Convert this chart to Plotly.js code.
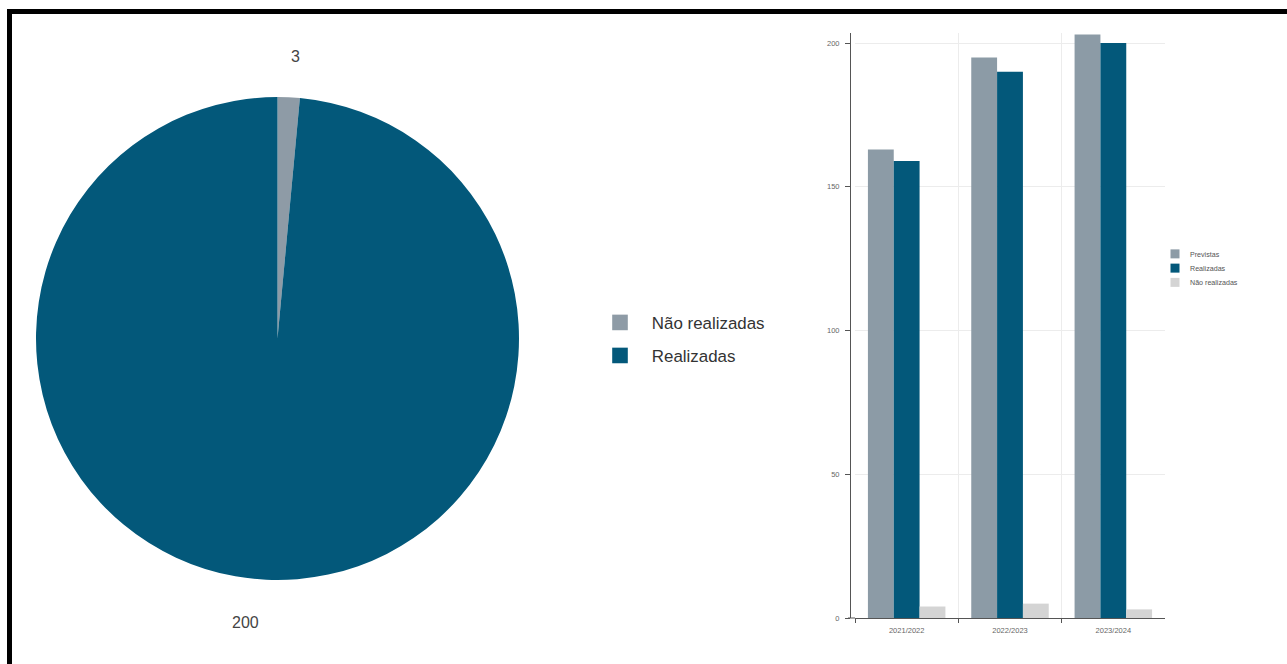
<!DOCTYPE html>
<html>
<head>
<meta charset="utf-8">
<script src="https://cdn.plot.ly/plotly-3.0.1.min.js"></script>
<style>
  html, body { margin: 0; padding: 0; background: #fff; }
  #wrap { position: relative; width: 1287px; height: 664px; overflow: hidden; }
  #chart { position: absolute; left: 0; top: 0; width: 1287px; height: 664px; }
  #frame { position: absolute; left: 7px; top: 9px; width: 1400px; height: 800px;
           border-left: 5px solid #000; border-top: 5px solid #000; pointer-events: none; }
</style>
</head>
<body>
<div id="wrap">
  <div id="chart"></div>
  <div id="frame"></div>
</div>
<script>
// Pie data
const pieLabels = ['Não realizadas', 'Realizadas'];
const pieValues = [3, 200];
const pieColors = ['#8e9ba6', '#03587a'];

// Bar data
const years = ['2021/2022', '2022/2023', '2023/2024'];
const previstas = [163, 195, 203];
const realizadas = [159, 190, 200];
const naoRealizadas = [4, 5, 3];
const barNames = ['Previstas', 'Realizadas', 'Não realizadas'];
const barColors = ['#8c9ba6', '#03587a', '#d4d4d4'];
const yTicks = [0, 50, 100, 150, 200];

const W = 1287, H = 664;
const font = 'Liberation Sans, Arial, sans-serif';

const traces = [
  {
    type: 'pie',
    labels: pieLabels,
    values: pieValues,
    marker: { colors: pieColors },
    sort: false,
    direction: 'clockwise',
    rotation: 0,
    textinfo: 'none',
    domain: { x: [35 / W, 520 / W], y: [84 / H, 567 / H] },
    legend: 'legend',
    hoverinfo: 'label+value'
  }
];

const seriesVals = [previstas, realizadas, naoRealizadas];
for (let i = 0; i < 3; i++) {
  traces.push({
    type: 'bar',
    name: barNames[i],
    x: years,
    y: seriesVals[i],
    marker: { color: barColors[i] },
    xaxis: 'x',
    yaxis: 'y',
    legend: 'legend2'
  });
}

// Pie value labels placed outside the pie (text comes from the data)
const pieLabelPos = [[295, 57], [245, 622]];
const annotations = pieValues.map((v, i) => ({
  xref: 'paper', yref: 'paper',
  x: pieLabelPos[i][0] / W, y: 1 - pieLabelPos[i][1] / H,
  xanchor: 'center', yanchor: 'middle',
  text: String(v), showarrow: false,
  font: { size: 16, color: '#444', family: font }
}));

const layout = {
  width: W, height: H,
  margin: { l: 0, r: 0, t: 0, b: 0 },
  paper_bgcolor: 'rgba(0,0,0,0)',
  plot_bgcolor: 'rgba(0,0,0,0)',
  font: { family: font },
  barmode: 'group',
  bargap: 0.25,
  bargroupgap: 0,
  annotations: annotations,
  shapes: [{
    type: 'line', xref: 'paper', yref: 'paper',
    x0: 848 / W, x1: 855 / W, y0: 46 / H, y1: 46 / H,
    line: { color: '#555', width: 1 }
  }],
  xaxis: {
    domain: [855 / W, 1165 / W],
    anchor: 'y',
    type: 'category',
    tickson: 'boundaries',
    ticks: 'outside',
    ticklen: 4,
    tickcolor: '#555',
    showgrid: true,
    gridcolor: '#ececec',
    showline: true,
    linecolor: '#555',
    linewidth: 1,
    tickfont: { size: 7.5, color: '#666' },
    ticklabelstandoff: 5,
    zeroline: false
  },
  yaxis: {
    domain: [46 / H, (H - 33) / H],
    anchor: 'free',
    position: 850 / W,
    range: [0, 203.5],
    tickvals: yTicks,
    ticktext: yTicks.map(String),
    ticks: 'outside',
    ticklen: 5,
    tickcolor: '#555',
    showgrid: true,
    gridcolor: '#ececec',
    showline: true,
    linecolor: '#555',
    linewidth: 1,
    tickfont: { size: 7.5, color: '#666' },
    ticklabelstandoff: 4,
    zeroline: false
  },
  legend: {
    x: 594 / W, y: 1 - 303 / H,
    xanchor: 'left', yanchor: 'top',
    font: { size: 13, color: '#333', family: font },
    bgcolor: 'rgba(0,0,0,0)',
    tracegroupgap: 0
  },
  legend2: {
    x: 1160 / W, y: 1 - 243 / H,
    xanchor: 'left', yanchor: 'top',
    font: { size: 9.5, color: '#555', family: font },
    bgcolor: 'rgba(0,0,0,0)',
    traceorder: 'normal'
  },
  showlegend: true
};

function adjustLegend(sel, s, spacing, textX) {
  const g = document.querySelector(sel);
  if (!g) return;
  const t = g.getAttribute('transform') || '';
  g.setAttribute('transform', t + ' scale(' + s + ')');
  const sb = g.querySelector('.scrollbox');
  if (sb) sb.removeAttribute('clip-path');
  g.removeAttribute('clip-path');
  const items = g.querySelectorAll('g.traces');
  let y0 = null;
  items.forEach((it, i) => {
    const m = /translate\(\s*([-\d.e]+)[\s,]+([-\d.e]+)\s*\)/.exec(it.getAttribute('transform') || '');
    if (!m) return;
    const x = parseFloat(m[1]), y = parseFloat(m[2]);
    if (y0 === null) y0 = y;
    if (spacing) it.setAttribute('transform', 'translate(' + x + ',' + (y0 + i * spacing) + ')');
    if (textX) {
      const tx = it.querySelector('text.legendtext');
      if (tx) tx.setAttribute('x', textX);
    }
  });
}

Plotly.newPlot('chart', traces, layout, { displayModeBar: false, staticPlot: true }).then(() => {
  adjustLegend('#chart g.legend', 1.3, 25.4, 44.5);
  adjustLegend('#chart g.legend2', 0.75, null, null);
});
</script>
</body>
</html>
